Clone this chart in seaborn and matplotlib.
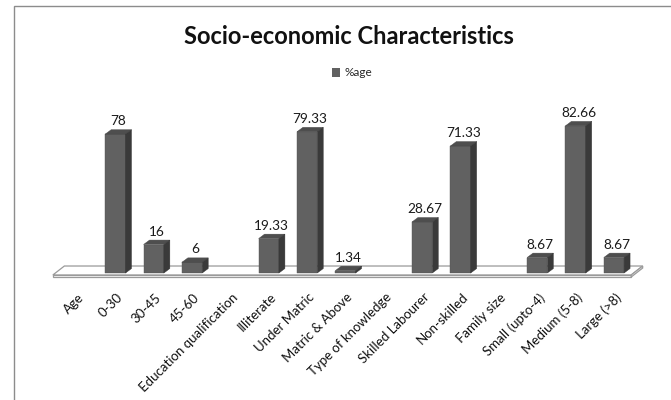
import numpy as np
import pandas as pd
import matplotlib
matplotlib.use("Agg")
import matplotlib.pyplot as plt
import matplotlib.transforms as mtransforms
from matplotlib.patches import Polygon, Rectangle, Patch
import seaborn as sns

# Categories (group headers carry no value)
categories = ["Age", "0-30", "30-45", "45-60", "Education qualification",
              "Illiterate", "Under Matric", "Matric & Above", "Type of knowledge",
              "Skilled Labourer", "Non-skilled", "Family size", "Small (upto-4)",
              "Medium (5-8)", "Large (>8)"]
percent = [np.nan, 78, 16, 6, np.nan, 19.33, 79.33, 1.34, np.nan,
           28.67, 71.33, np.nan, 8.67, 82.66, 8.67]
series_name = "%age"
title = "Socio-economic Characteristics"

df = pd.DataFrame({"category": categories, "value": percent})

sns.set_style("white")
plt.rcParams["font.family"] = ["Lato", "DejaVu Sans"]

FRONT = "#616161"
TOP = "#4e4e4e"
SIDE = "#3a3a3a"

fig = plt.figure(figsize=(6.71, 4.0), dpi=100)
ax = fig.add_axes([40 / 671, 0.30, 610 / 671, 0.45])

sns.barplot(data=df, x="category", y="value", order=categories, color=FRONT,
            width=0.53, errorbar=None, saturation=1, ax=ax, zorder=3)

ax.set_xlim(-0.965, 14.941)
ax.set_ylim(-3.93, 97.19)

# depth of the pseudo-3D extrusion, in data units
dx, dy = 0.156, 2.5

# floor slab
fx0, fx1, fback = -0.63, 14.45, 0.30
floor_top = Polygon([(fx0, -1.12), (fx1, -1.12), (fx1 + fback, 3.93), (fx0 + fback, 3.93)],
                    closed=True, facecolor="white", edgecolor="#9a9a9a", lw=0.9, zorder=1)
floor_front = Polygon([(fx0, -1.12), (fx1, -1.12), (fx1, -2.25), (fx0, -2.25)],
                      closed=True, facecolor="white", edgecolor="#9a9a9a", lw=0.9, zorder=1)
floor_side = Polygon([(fx1, -1.12), (fx1 + fback, 3.93), (fx1 + fback, 2.8), (fx1, -2.25)],
                     closed=True, facecolor="white", edgecolor="#9a9a9a", lw=0.9, zorder=1)
floor_parts = (floor_top, floor_front, floor_side)
for p in floor_parts:
    ax.add_patch(p)

bars = [p for p in ax.patches if isinstance(p, Rectangle) and p not in floor_parts]
for bar in bars:
    x0, w, h = bar.get_x(), bar.get_width(), bar.get_height()
    if not np.isfinite(h):
        continue
    bar.set_edgecolor("#555555")
    bar.set_linewidth(0.3)
    top = Polygon([(x0, h), (x0 + w, h), (x0 + w + dx, h + dy), (x0 + dx, h + dy)],
                  closed=True, facecolor=TOP, edgecolor="#444444", lw=0.3, zorder=4)
    side = Polygon([(x0 + w, 0), (x0 + w + dx, dy), (x0 + w + dx, h + dy), (x0 + w, h)],
                   closed=True, facecolor=SIDE, edgecolor="#333333", lw=0.3, zorder=4)
    ax.add_patch(top)
    ax.add_patch(side)
    ax.text(x0 + (w + dx) / 2, h + dy + 1.4, f"{h:g}", ha="center", va="bottom",
            fontsize=9.8, color="#1a1a1a", zorder=5)

sns.despine(ax=ax, left=True, bottom=True)
ax.set_yticks([])
ax.set_xlabel("")
ax.set_ylabel("")
ax.set_xticks(range(len(categories)))
ax.set_xticklabels(categories, rotation=45, ha="right", rotation_mode="anchor",
                   fontsize=9.5, color="#111111")
ax.tick_params(axis="x", length=0, pad=8)
shift = mtransforms.ScaledTranslation(1 / 100, 0, fig.dpi_scale_trans)
for lab in ax.get_xticklabels():
    lab.set_transform(lab.get_transform() + shift)

fig.text(349 / 671, 1 - 36 / 400, title, ha="center", va="center",
         fontsize=17, fontweight="bold", color="#111111")

fig.legend(handles=[Patch(facecolor=FRONT, edgecolor="none")], labels=[series_name],
           loc="center", bbox_to_anchor=(352 / 671, 1 - 73 / 400), frameon=False,
           handlelength=0.7, handleheight=0.7, handletextpad=0.3, fontsize=8.5)

# outer chart frame
fig.patches.append(Rectangle((14 / 671, -0.05), 1.0, 0.985 + 0.05, transform=fig.transFigure,
                             fill=False, edgecolor="#8c8c8c", lw=1.0))

fig.savefig("out.png", dpi=100, facecolor="white")
